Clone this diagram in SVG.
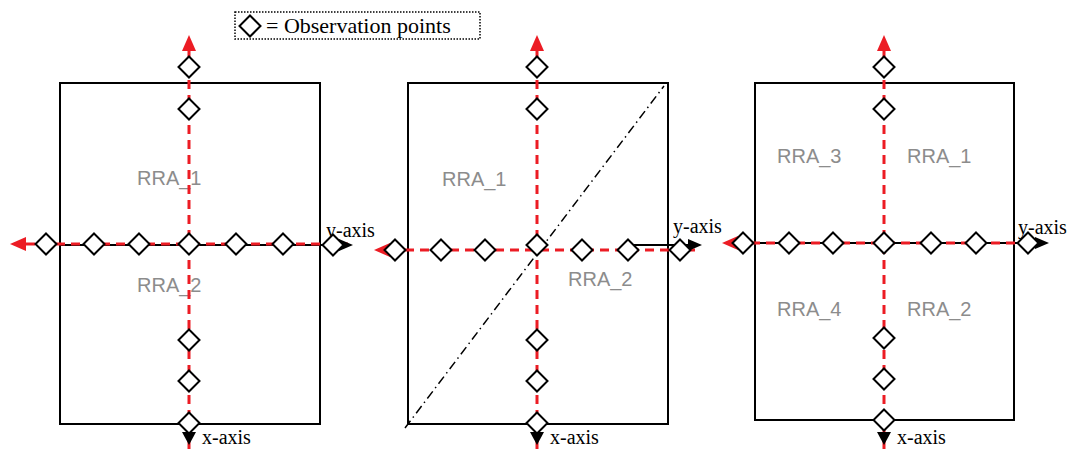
<svg xmlns="http://www.w3.org/2000/svg" xmlns:xlink="http://www.w3.org/1999/xlink" width="1075" height="450" viewBox="0 0 1075 450">
<style>
.box{fill:none;stroke:#000;stroke-width:2}
.red{fill:none;stroke:#ec1c24;stroke-width:3;stroke-dasharray:9 6}
.blk{fill:none;stroke:#000;stroke-width:2}
.dia{fill:#fff;stroke:#000;stroke-width:2}
.rra{font-family:"Liberation Sans",Arial,sans-serif;font-size:20px;fill:#8c8c8c}
.lab{font-family:"Liberation Serif","Times New Roman",serif;font-size:20px;fill:#000}
.leg{font-family:"Liberation Serif","Times New Roman",serif;font-size:22px;fill:#000}
.ra{fill:#ec1c24}
.ba{fill:#000}
</style>
<defs>
<path id="d" class="dia" d="M0,-10.5 L10.5,0 L0,10.5 L-10.5,0Z"/>
</defs>
<g id="legend">
<rect x="235" y="12" width="245" height="27" fill="none" stroke="#000" stroke-width="1.5" stroke-dasharray="1.5 1.5"/>
<use xlink:href="#d" x="250" y="26"/>
<text class="leg" x="266" y="33">= Observation points</text>
</g>
<g id="panel1">
<rect class="box" x="60" y="83" width="260" height="341"/>
<text class="rra" x="137" y="185">RRA_1</text>
<text class="rra" x="137" y="292">RRA_2</text>
</g>
<g id="panel2">
<rect class="box" x="408" y="83" width="260" height="341"/>
<line x1="405" y1="428" x2="664" y2="86" stroke="#000" stroke-width="1.5" stroke-dasharray="9 4 1.5 4"/>
<text class="rra" x="442" y="186">RRA_1</text>
<text class="rra" x="568" y="286">RRA_2</text>
</g>
<g id="panel3">
<rect class="box" x="755" y="83" width="259" height="337"/>
<text class="rra" x="777" y="163">RRA_3</text>
<text class="rra" x="907" y="163">RRA_1</text>
<text class="rra" x="777" y="316">RRA_4</text>
<text class="rra" x="907" y="316">RRA_2</text>
</g>
<g id="connectors">
<!-- panel 1 -->
<line class="blk" x1="60" y1="245" x2="342" y2="245"/>
<line class="red" x1="189" y1="50" x2="189" y2="450"/>
<line class="red" x1="26" y1="244" x2="348" y2="244"/>
<polygon class="ra" points="189,35 182,51 196,51"/>
<polygon class="ra" points="10,244 26,237 26,251"/>
<polygon class="ba" points="353,245 339,239 339,251"/>
<polygon class="ba" points="182,432 196,432 189,445"/>
<text class="lab" x="326" y="237">y-axis</text>
<text class="lab" x="202" y="444">x-axis</text>
<!-- panel 2 -->
<line class="blk" x1="628" y1="245" x2="690" y2="245"/>
<line class="red" x1="537" y1="50" x2="537" y2="450"/>
<line class="red" x1="390" y1="250" x2="695" y2="250"/>
<polygon class="ra" points="537,35 530,51 544,51"/>
<polygon class="ra" points="374,250 390,243 390,257"/>
<polygon class="ba" points="702,245 688,239 688,251"/>
<polygon class="ba" points="530,432 544,432 537,445"/>
<text class="lab" x="673" y="233">y-axis</text>
<text class="lab" x="550" y="444">x-axis</text>
<!-- panel 3 -->
<line class="blk" x1="755" y1="243" x2="1038" y2="243"/>
<line class="red" x1="736" y1="243" x2="1040" y2="243"/>
<line class="red" x1="884" y1="50" x2="884" y2="450"/>
<polygon class="ra" points="884,35 877,51 891,51"/>
<polygon class="ra" points="722,243 738,236 738,250"/>
<polygon class="ba" points="1049,243 1035,237 1035,249"/>
<polygon class="ba" points="877,432 891,432 884,445"/>
<text class="lab" x="1018" y="234">y-axis</text>
<text class="lab" x="897" y="444">x-axis</text>
</g>
<g id="points1">
<use xlink:href="#d" x="189" y="67"/>
<use xlink:href="#d" x="189" y="109"/>
<use xlink:href="#d" x="189" y="340"/>
<use xlink:href="#d" x="189" y="381"/>
<use xlink:href="#d" x="189" y="423"/>
<use xlink:href="#d" x="46" y="244"/>
<use xlink:href="#d" x="94" y="244"/>
<use xlink:href="#d" x="139" y="244"/>
<use xlink:href="#d" x="189" y="244"/>
<use xlink:href="#d" x="236" y="244"/>
<use xlink:href="#d" x="283" y="244"/>
<use xlink:href="#d" x="333" y="245"/>
</g>
<g id="points2">
<use xlink:href="#d" x="537" y="67"/>
<use xlink:href="#d" x="537" y="109"/>
<use xlink:href="#d" x="537" y="340"/>
<use xlink:href="#d" x="537" y="381"/>
<use xlink:href="#d" x="537" y="423"/>
<use xlink:href="#d" x="395" y="250"/>
<use xlink:href="#d" x="441" y="250"/>
<use xlink:href="#d" x="485" y="250"/>
<use xlink:href="#d" x="537" y="245"/>
<use xlink:href="#d" x="582" y="250"/>
<use xlink:href="#d" x="628" y="250"/>
<use xlink:href="#d" x="680" y="250"/>
</g>
<g id="points3">
<use xlink:href="#d" x="884" y="67"/>
<use xlink:href="#d" x="884" y="109"/>
<use xlink:href="#d" x="884" y="338"/>
<use xlink:href="#d" x="884" y="379"/>
<use xlink:href="#d" x="884" y="420"/>
<use xlink:href="#d" x="743" y="243"/>
<use xlink:href="#d" x="789" y="243"/>
<use xlink:href="#d" x="833" y="243"/>
<use xlink:href="#d" x="884" y="243"/>
<use xlink:href="#d" x="931" y="243"/>
<use xlink:href="#d" x="976" y="243"/>
<use xlink:href="#d" x="1028" y="243"/>
</g>
</svg>
